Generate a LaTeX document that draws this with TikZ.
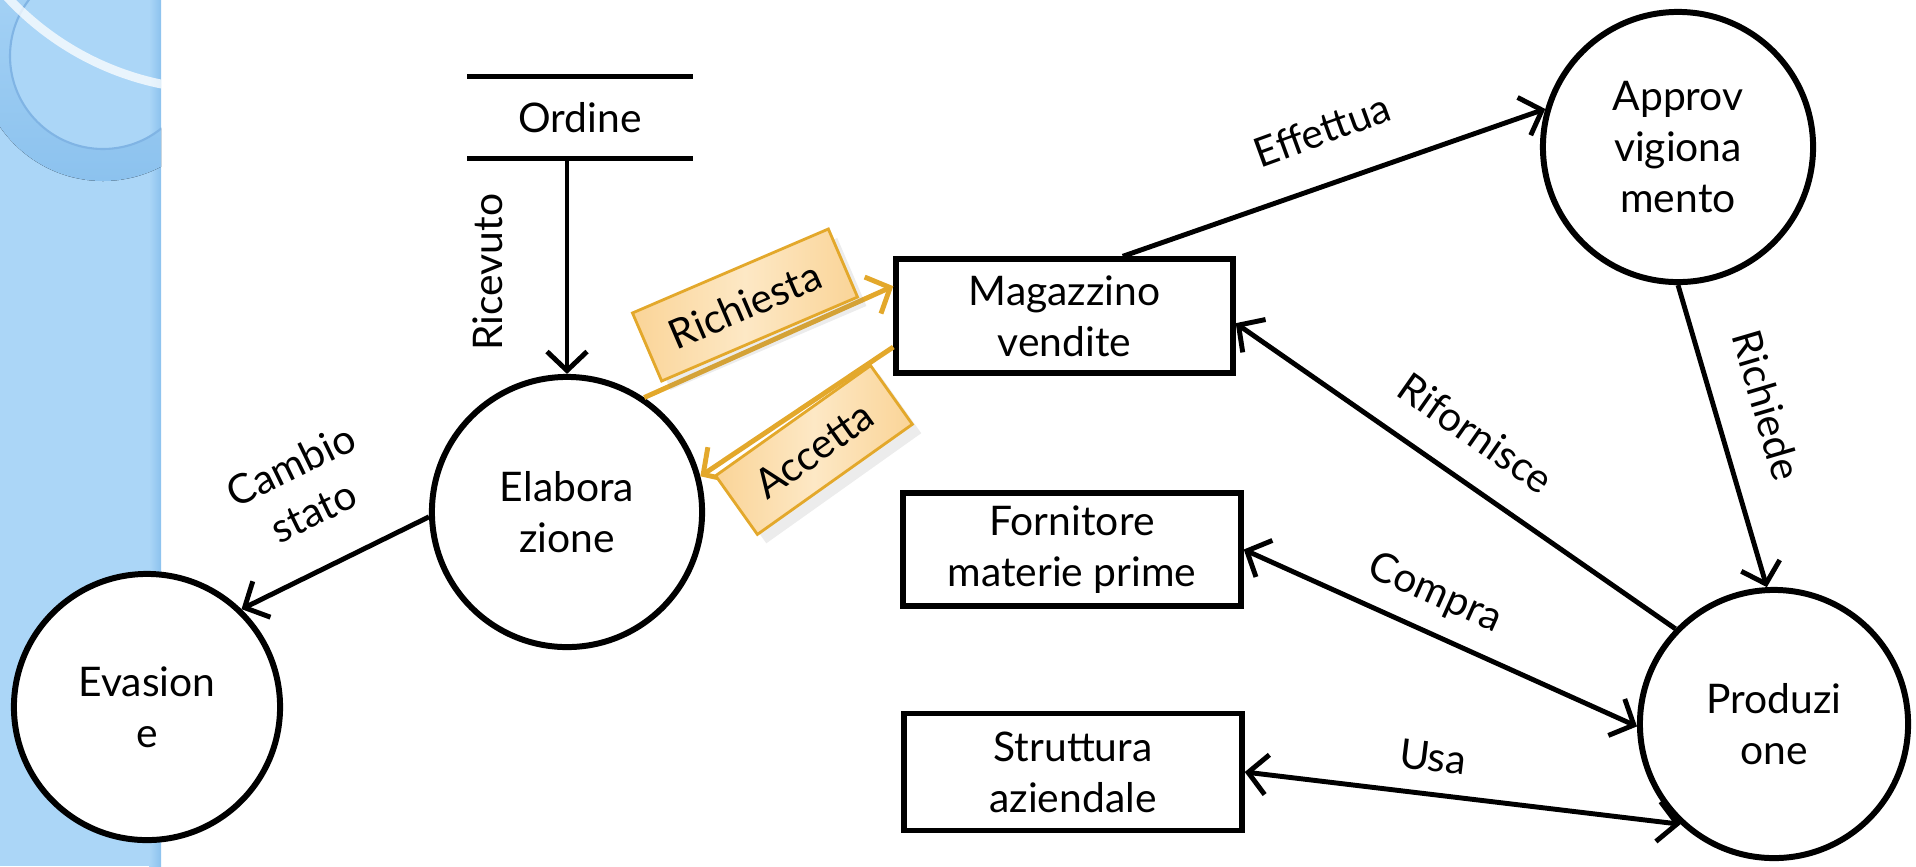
\documentclass[tikz,border=0pt]{standalone}
\usepackage{fontspec}
\setmainfont{Lato}
\usetikzlibrary{arrows.meta,calc,shadows}
\definecolor{stripblue}{HTML}{ABD6F7}
\definecolor{ringblue}{HTML}{8CC2EE}
\definecolor{ringline}{HTML}{80B4E4}
\definecolor{tagline}{HTML}{E3A82B}
\definecolor{tagfill}{HTML}{FAD497}
\definecolor{tagmid}{HTML}{FDE8C5}

\begin{document}
\begin{tikzpicture}[x=0.01cm, y=-0.01cm, font=\fontsize{11.6}{14.5}\selectfont,
		flow/.style={line width=1.4pt, -{Straight Barb[length=1.9mm,width=4mm]}},
		dflow/.style={line width=1.4pt, {Straight Barb[length=1.9mm,width=4mm]}-{Straight Barb[length=1.9mm,width=4mm]}},
		tagflow/.style={tagline, line width=1.4pt, -{Straight Barb[length=1.9mm,width=4mm]}},
		proc/.style={circle, draw, line width=1.7pt, fill=white, minimum size=2.7cm, inner sep=0pt, align=center},
		ent/.style={rectangle, draw, line width=1.5pt, fill=white, inner sep=0pt, align=center},
		tag/.style={draw=tagline, line width=0.8pt, left color=tagfill, right color=tagfill, middle color=tagmid, inner sep=0pt, drop shadow={opacity=0.15}}]
		\useasboundingbox (0,0) rectangle (1916,866);

		\fill[stripblue] (0,0) rectangle (161,866);
		\fill[left color=stripblue, right color=ringblue] (149,0) rectangle (161,866);
		\begin{scope}
			\clip (0,0) rectangle (161,866);
			\fill[even odd rule, top color=stripblue, bottom color=ringblue] (103,56) circle[radius=125] (103,56) circle[radius=93];
			\draw[ringline, line width=0.6pt] (103,56) circle[radius=93];
			\draw[white, opacity=0.75, line width=2.5pt] (220,-200) circle[radius=290];
		\end{scope}

		\node[minimum width=2.24cm, minimum height=0.81cm, inner sep=0pt] (ordine) at (580,117.5) {Ordine};
		\node[proc] (elab) at (567,512) {Elabora\\zione};
		\node[proc, minimum size=2.66cm] (evas) at (147,707) {Evasion\\e};
		\node[proc] (appr) at (1678,147) {Approv\\vigiona\\mento};
		\node[proc, minimum size=2.68cm] (prod) at (1774,724) {Produzi\\one};
		\node[ent, minimum width=3.37cm, minimum height=1.14cm] (mag) at (1064.5,316) {Magazzino\\vendite};
		\node[ent, minimum width=3.38cm, minimum height=1.13cm] (forn) at (1072,549.5) {Fornitore\\materie prime};
		\node[ent, minimum width=3.38cm, minimum height=1.17cm] (strut) at (1073,772) {Struttura\\aziendale};

		\draw[line width=1.5pt] (ordine.north west) -- (ordine.north east);
		\draw[line width=1.5pt] (ordine.south west) -- (ordine.south east);
		\draw[flow] (ordine.south -| elab.north) -- (elab.north);
		\draw[flow] (elab.182) -- (evas.46);
		\draw[tagflow] (elab.56) -- ($(mag.north west)!0.25!(mag.south west)$);
		\draw[tagflow] ($(mag.north west)!0.76!(mag.south west)$) -- (elab.15);
		\draw[flow] ($(mag.north west)!0.67!(mag.north east)$) -- (appr.164);
		\draw[flow] (appr.south) -- (prod.93);
		\draw[flow] (prod.136) -- ($(mag.north east)!0.56!(mag.south east)$);
		\draw[dflow] (forn.east) -- (prod.181);
		\draw[dflow] (strut.east) -- (prod.227);

		\node[rotate=90] (lblric) at (488,272) {Ricevuto};
		\node[rotate=26, align=center] (lblcam) at (302,488) {Cambio\\stato};
		\node[tag, rotate=23.2, minimum width=2.13cm, minimum height=0.74cm] (tagric) at (745,305) {Richiesta};
		\node[tag, rotate=35.4, minimum width=1.9cm, minimum height=0.72cm] (tagacc) at (814,450) {Accetta};
		\node[rotate=20] (lbleff) at (1322,130) {Effettua};
		\node[rotate=-73.6] (lblrch) at (1767,405) {Richiede};
		\node[rotate=-35] (lblrif) at (1476,433) {Rifornisce};
		\node[rotate=-24] (lblcom) at (1435,594) {Compra};
		\node[rotate=-7] (lblusa) at (1433,757) {Usa};
	\end{tikzpicture}
\end{document}
